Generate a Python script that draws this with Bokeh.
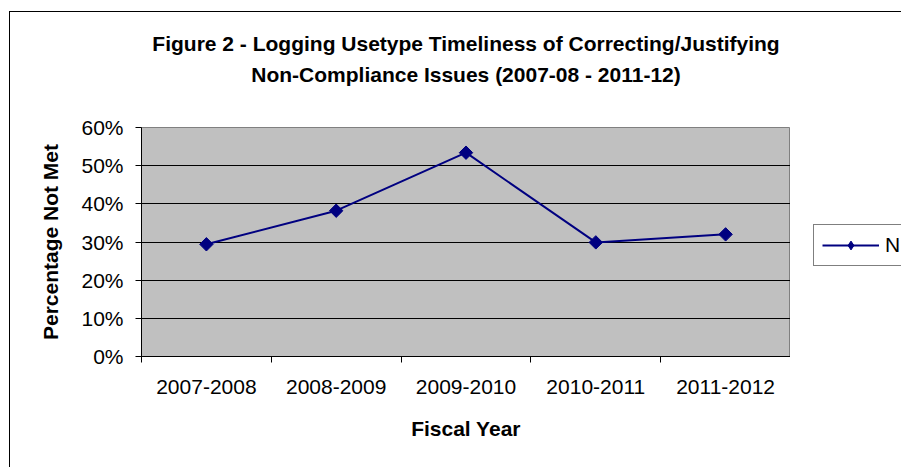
from bokeh.plotting import figure
from bokeh.layouts import row
from bokeh.models import (FactorRange, Range1d, LinearAxis, CategoricalAxis, FixedTicker,
                          NumeralTickFormatter, Title, Legend, LegendItem, ColumnDataSource)
from bokeh.embed import file_html
from bokeh.resources import INLINE

# Fiscal years and share of logging usetype issues not corrected/justified on time
fiscal_years = ["2007-2008", "2008-2009", "2009-2010", "2010-2011", "2011-2012"]
pct_not_met = [0.294, 0.382, 0.534, 0.299, 0.320]
y_ticks = [0.0, 0.1, 0.2, 0.3, 0.4, 0.5, 0.6]
title_lines = ["Figure 2 - Logging Usetype Timeliness of Correcting/Justifying",
               "Non-Compliance Issues (2007-08 - 2011-12)"]
series_name = "N"

FONT = "Liberation Sans"
NAVY = "#000080"

src = ColumnDataSource(dict(year=fiscal_years, pct=pct_not_met))

p = figure(width=790, height=467, output_backend="svg", toolbar_location=None,
           x_range=FactorRange(*fiscal_years, range_padding=0),
           y_range=Range1d(0, 0.6),
           x_axis_location=None, y_axis_location=None,
           min_border_left=141, min_border_right=0,
           min_border_top=127, min_border_bottom=111)

p.background_fill_color = "#C0C0C0"
p.border_fill_alpha = 0
p.outline_line_color = "#808080"
p.outline_line_width = 1

# x axis line with ticks on the boundaries between fiscal-year categories
edge_axis = LinearAxis(ticker=FixedTicker(ticks=[], minor_ticks=list(range(len(fiscal_years) + 1))),
                       major_tick_out=0, major_tick_in=0, major_label_standoff=0,
                       minor_tick_out=6, minor_tick_in=0,
                       axis_line_color="black", minor_tick_line_color="black")
p.add_layout(edge_axis, "below")

cat_axis = CategoricalAxis(axis_line_color=None, major_tick_line_color=None,
                           major_tick_out=0, major_tick_in=0,
                           major_label_standoff=17,
                           major_label_text_font=FONT, major_label_text_font_size="21px",
                           major_label_text_color="black",
                           axis_label="Fiscal Year", axis_label_standoff=20,
                           axis_label_text_font=FONT, axis_label_text_font_size="21px",
                           axis_label_text_font_style="bold", axis_label_text_color="black")
p.add_layout(cat_axis, "below")

y_axis = LinearAxis(ticker=FixedTicker(ticks=y_ticks),
                    formatter=NumeralTickFormatter(format="0%"),
                    major_tick_out=6, major_tick_in=0, minor_tick_line_color=None,
                    axis_line_color="black", major_tick_line_color="black",
                    major_label_standoff=12,
                    major_label_text_font=FONT, major_label_text_font_size="21px",
                    major_label_text_color="black",
                    axis_label="Percentage Not Met", axis_label_standoff=16,
                    axis_label_text_font=FONT, axis_label_text_font_size="21px",
                    axis_label_text_font_style="bold", axis_label_text_color="black")
p.add_layout(y_axis, "left")

p.xgrid.visible = False
p.ygrid.ticker = FixedTicker(ticks=y_ticks[1:-1])
p.ygrid.grid_line_color = "black"
p.ygrid.grid_line_width = 1

# blank spacer between the frame and the two title lines
p.add_layout(Title(text=" ", align="center", standoff=17,
                   text_font=FONT, text_font_size="21px"), "above")
p.add_layout(Title(text=title_lines[1], align="center", standoff=0,
                   text_font=FONT, text_font_size="21px", text_font_style="bold",
                   text_color="black"), "above")
p.add_layout(Title(text=title_lines[0], align="center", standoff=12,
                   text_font=FONT, text_font_size="21px", text_font_style="bold",
                   text_color="black"), "above")

line = p.line("year", "pct", source=src, line_color=NAVY, line_width=2)
pts = p.scatter("year", "pct", source=src, marker="square", angle=0.785398, size=9.5,
                fill_color=NAVY, line_color=NAVY)

# legend panel to the right of the chart (its frame lines up with the chart frame)
lg = figure(width=111, height=467, output_backend="svg", toolbar_location=None,
            x_range=FactorRange(*fiscal_years), y_range=Range1d(2, 3),
            x_axis_location=None, y_axis_location=None,
            min_border_left=0, min_border_right=0, min_border_top=0, min_border_bottom=0)
lg.grid.visible = False
lg.background_fill_alpha = 0
lg.border_fill_alpha = 0
lg.outline_line_color = None
key_line = lg.line("year", "pct", source=src, line_color=NAVY, line_width=2)
key_pts = lg.scatter("year", "pct", source=src, marker="diamond", size=18,
                     fill_color=NAVY, line_color=NAVY)
legend = Legend(items=[LegendItem(label=series_name, renderers=[key_line, key_pts])],
                location=(23, 90), orientation="vertical",
                glyph_width=57, glyph_height=22, label_standoff=6,
                padding=8, margin=0, spacing=0,
                label_text_font=FONT, label_text_font_size="21px", label_text_color="black",
                border_line_color="black", border_line_width=1,
                background_fill_color="white", background_fill_alpha=1)
lg.add_layout(legend, "center")

layout = row(p, lg, spacing=0)
# thin black chart-area frame behind both canvases
layout.styles = {"background": "linear-gradient(#000, #000) 9px 11px / 1px 100% no-repeat, "
                               "linear-gradient(#000, #000) 9px 11px / 100% 1px no-repeat, #ffffff"}

open("out.html", "w").write(file_html(layout, INLINE))
